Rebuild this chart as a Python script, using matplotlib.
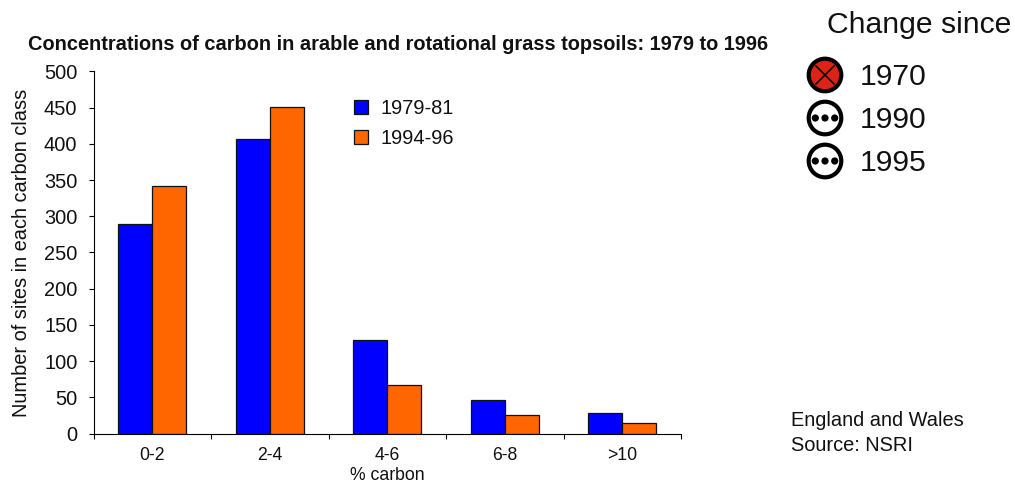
import matplotlib
matplotlib.use("Agg")
import matplotlib.pyplot as plt
from matplotlib.patches import Circle
from matplotlib.lines import Line2D

plt.rcParams['font.family'] = ['Liberation Sans', 'DejaVu Sans']
plt.rcParams['axes.linewidth'] = 0.8

categories = ['0-2', '2-4', '4-6', '6-8', '>10']
series_1979 = [289, 407, 129, 46, 28]
series_1994 = [342, 451, 67, 26, 15]
yticks = list(range(0, 501, 50))
TXT = '#111111'

W, H = 1015, 483
fig = plt.figure(figsize=(W/100, H/100), dpi=100)
ax = fig.add_axes([93.5/W, 1-433.5/H, 587.5/W, 362/H])
xs = list(range(len(categories)))
bw = 34/117.5
ax.bar([x-bw/2 for x in xs], series_1979, bw, color='#0000ff', edgecolor='#111111', linewidth=0.9, label='1979-81')
ax.bar([x+bw/2 for x in xs], series_1994, bw, color='#ff6600', edgecolor='#111111', linewidth=0.9, label='1994-96')
ax.set_xlim(-0.5, 4.5)
ax.set_ylim(0, 500)
for s in ('top', 'right'):
    ax.spines[s].set_visible(False)
ax.set_yticks(yticks)
ax.set_xticks([x-0.5 for x in range(6)], minor=False)
ax.set_xticklabels([])
ax.set_xticks(xs, minor=True)
ax.set_xticklabels(categories, minor=True, fontsize=12.7, color=TXT)
ax.tick_params(axis='x', which='minor', length=0, pad=9.5)
ax.tick_params(axis='x', which='major', length=3.6, width=0.8, direction='out')
ax.tick_params(axis='y', length=3.6, width=0.8, labelsize=14.4, labelcolor=TXT, pad=8)
ax.set_xlabel('% carbon', fontsize=12.7, color=TXT, labelpad=2.2)
ax.set_ylabel('Number of sites in each carbon class', fontsize=14.4, color=TXT)
ax.yaxis.set_label_coords(-62.5/587.5, 0.5)
ax.legend(loc='upper left', bbox_to_anchor=(260.5/587.5, 0.925), frameon=False, fontsize=14.4,
          handlelength=0.72, handleheight=0.72, handletextpad=0.6, labelspacing=0.58,
          labelcolor=TXT, borderaxespad=0, borderpad=0)

fig.text(28/W, 1-44.5/H, 'Concentrations of carbon in arable and rotational grass topsoils: 1979 to 1996',
         fontsize=14.45, fontweight='bold', color=TXT, ha='left', va='center')

ov = fig.add_axes([0, 0, 1, 1], facecolor='none')
ov.set_xlim(0, W); ov.set_ylim(H, 0); ov.axis('off')
ov.text(827, 25, 'Change since', fontsize=21.7, color=TXT, ha='left', va='center')
icons = [('1970', 75, True), ('1990', 118, False), ('1995', 161, False)]
for label, cy, bad in icons:
    cx = 825
    ov.add_patch(Circle((cx, cy), 16.3, facecolor='#dd2218' if bad else 'white', edgecolor='black', linewidth=3))
    if bad:
        d = 9
        ov.add_line(Line2D([cx-d, cx+d], [cy-d, cy+d], color='black', lw=1.1))
        ov.add_line(Line2D([cx-d, cx+d], [cy+d, cy-d], color='black', lw=1.1))
    else:
        for dx in (-9.7, 0, 9.7):
            ov.add_patch(Circle((cx+dx, cy), 3.6, facecolor='black', edgecolor='none'))
    ov.text(860, cy+2, label, fontsize=21.7, color=TXT, ha='left', va='center')
ov.text(791, 433, 'England and Wales\nSource: NSRI', fontsize=14.4, color=TXT, ha='left', va='center', linespacing=1.36)

fig.savefig('out.png', dpi=100)
